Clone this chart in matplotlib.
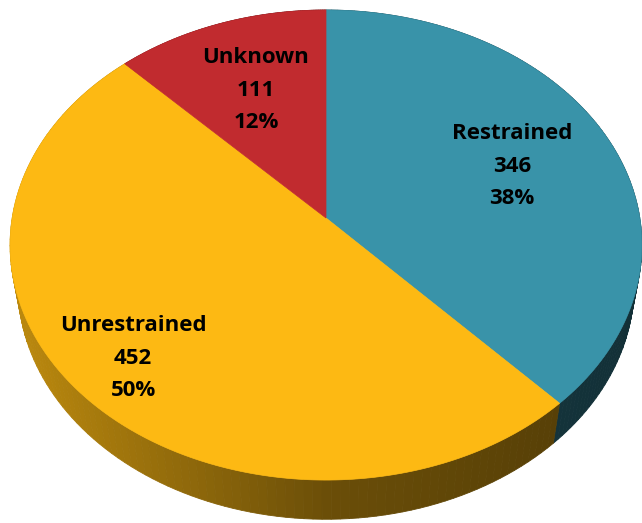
import numpy as np
import matplotlib
matplotlib.use("Agg")
import matplotlib.pyplot as plt
from matplotlib.patches import Polygon

# data
categories = ["Restrained", "Unrestrained", "Unknown"]
counts = [346, 452, 111]
colors = ["#3993a9", "#fdb913", "#c12b2f"]

# label anchors in pixels (middle line of each label)
label_xy = [(512, 166), (133, 358), (256, 90)]

# perspective set-up (pixels)
cx, cy = 326, 218
f = 1839.0
D = 5.86
c, s = 0.674, 0.739
h = 0.20


def proj(X, Y, Z):
    depth = D + Y * c - Z * s
    u = f * X / depth
    v = f * (Y * s + Z * c) / depth
    return cx + u, cy - v


def shade(hex_color, x):
    rgb = np.array(matplotlib.colors.to_rgb(hex_color))
    k = np.interp(x, [0, 330, 642], [0.76, 0.42, 0.32])
    return tuple(rgb * k)


fig = plt.figure(figsize=(6.42, 5.23), dpi=100)
ax = fig.add_axes([0, 0, 1, 1])
ax.set_xlim(0, 642)
ax.set_ylim(523, 0)
ax.axis("off")

total = sum(counts)
fracs = [v / total for v in counts]
starts = []
a = 90.0
for fr in fracs:
    starts.append((a, a - fr * 360))
    a -= fr * 360

# side wall strips, far ones first
strips = []
for (a0, a1), col in zip(starts, colors):
    th = np.radians(np.linspace(a0, a1, 120))
    for t0, t1 in zip(th[:-1], th[1:]):
        tm = 0.5 * (t0 + t1)
        pts = [proj(np.cos(t0), np.sin(t0), 0), proj(np.cos(t1), np.sin(t1), 0),
               proj(np.cos(t1), np.sin(t1), -h), proj(np.cos(t0), np.sin(t0), -h)]
        xm = np.mean([p[0] for p in pts])
        strips.append((np.sin(tm), pts, shade(col, xm)))
strips.sort(key=lambda r: -r[0])
for _, pts, fc in strips:
    ax.add_patch(Polygon(pts, closed=True, facecolor=fc, edgecolor=fc, linewidth=0.6))

# top face
for (a0, a1), col in zip(starts, colors):
    th = np.radians(np.linspace(a0, a1, 200))
    pts = [proj(0, 0, 0)] + [proj(np.cos(t), np.sin(t), 0) for t in th]
    ax.add_patch(Polygon(pts, closed=True, facecolor=col, edgecolor=col, linewidth=0.5))

for name, n, fr, (lx, ly) in zip(categories, counts, fracs, label_xy):
    lines = [name, str(n), f"{round(fr * 100)}%"]
    for i, t in enumerate(lines):
        ax.text(lx, ly + (i - 1) * 32.5, t, ha="center", va="center",
                fontsize=16, fontweight="bold", family="Open Sans", color="black")

fig.savefig("out.png", dpi=100)
